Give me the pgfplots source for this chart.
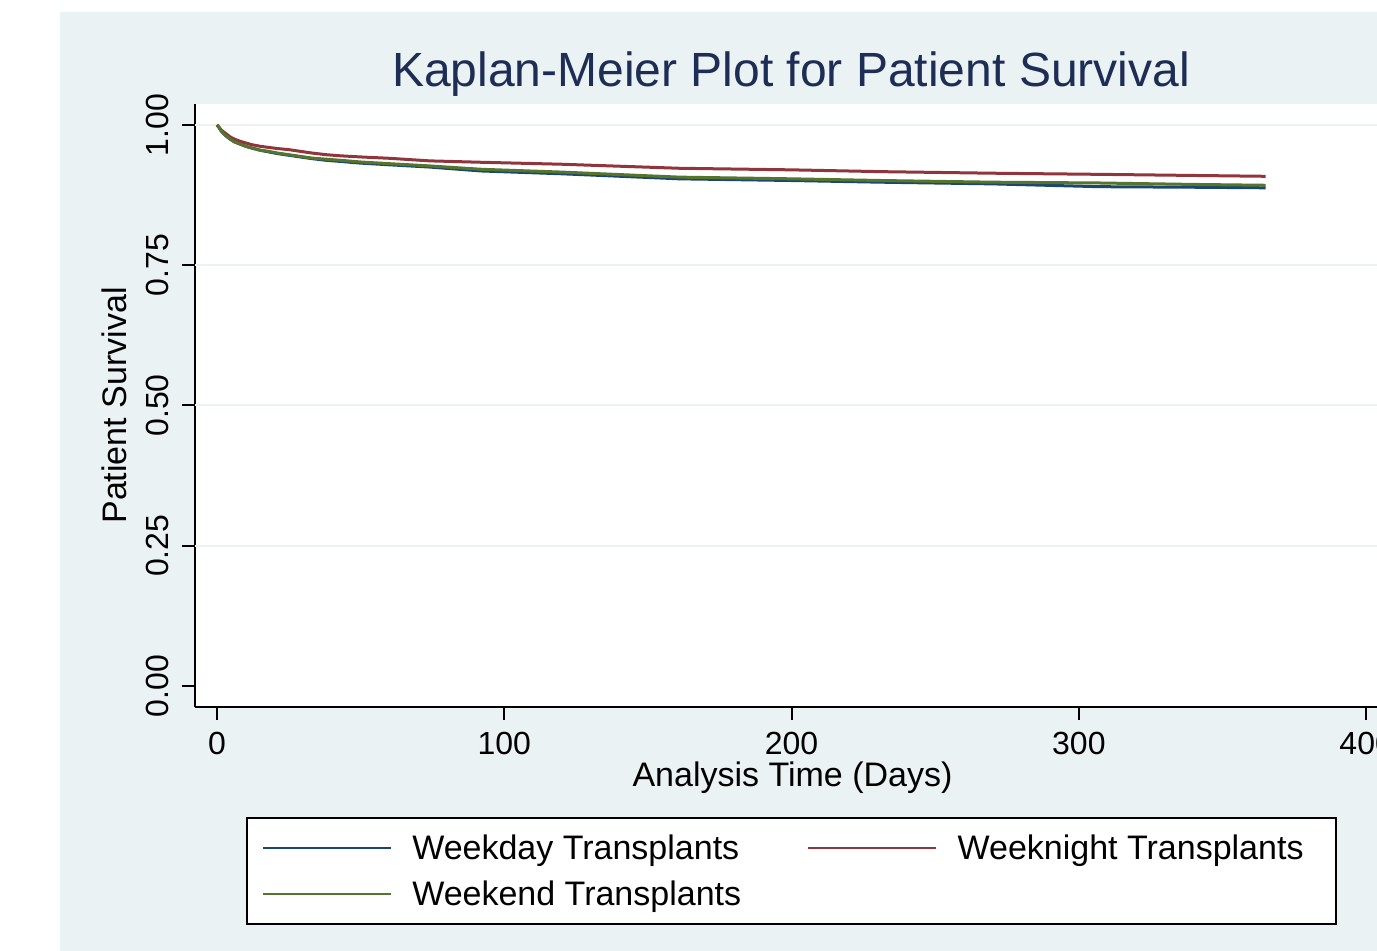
\documentclass[border=0pt]{standalone}
\usepackage{fontspec}
\setmainfont{Liberation Sans}
\usepackage{pgfplots}
\usepackage{pgfplotstable}
\pgfplotsset{compat=1.18}
\definecolor{bgc}{RGB}{234,242,243}
\definecolor{snavy}{RGB}{26,71,111}
\definecolor{smaroon}{RGB}{144,53,59}
\definecolor{sgreen}{RGB}{85,117,47}
\definecolor{titlec}{RGB}{30,45,85}
\pgfplotstableread{
t s
0 1.000
0.5 0.997
1 0.993
1.5 0.989
2.2 0.985
3 0.981
4.5 0.975
6 0.970
8 0.966
10 0.962
12 0.959
15 0.955
18 0.952
21 0.949
25 0.946
29 0.943
33 0.940
38 0.937
43 0.935
50 0.932
60 0.929
74 0.925
92 0.918
120 0.913
161 0.904
200 0.901
231 0.898
270 0.895
307 0.890
340 0.889
365 0.888
}\weekday
\pgfplotstableread{
t s
0 1.000
0.5 0.997
1 0.994
1.5 0.991
2.2 0.988
3 0.985
4.5 0.979
6 0.975
8 0.971
10 0.968
12 0.965
15 0.962
18 0.960
21 0.958
25 0.956
29 0.953
33 0.950
38 0.947
43 0.945
50 0.943
60 0.9406
74 0.936
92 0.9335
120 0.930
161 0.9228
200 0.920
231 0.9168
270 0.914
307 0.912
340 0.910
365 0.9085
}\weeknight
\pgfplotstableread{
t s
0 1.000
0.5 0.997
1 0.993
1.5 0.989
2.2 0.985
3 0.981
4.5 0.975
6 0.970
8 0.966
10 0.962
12 0.959
15 0.955
18 0.953
21 0.950
25 0.947
29 0.944
33 0.941
38 0.939
43 0.937
50 0.934
60 0.931
74 0.927
92 0.921
120 0.916
161 0.907
200 0.904
231 0.901
270 0.898
307 0.8966
340 0.894
365 0.8925
}\weekend
\begin{document}
\begin{tikzpicture}[x=0.5pt,y=0.5pt]
\useasboundingbox (0,0) rectangle (1377,951);
\fill[bgc] (60,0) rectangle (1377,939);
\node[anchor=base, text=titlec, font=\fontsize{24}{28}\selectfont, inner sep=0pt] at (791,864) {Kaplan-Meier Plot for Patient Survival};
\begin{scope}
\clip (0,0) rectangle (1377,951);
\begin{axis}[
  at={(97.5pt,122pt)}, anchor=south west,
  scale only axis, width=597.5pt, height=301.5pt,
  xmin=-7.66, xmax=408.3, ymin=-0.0374, ymax=1.0374,
  axis x line*=bottom, axis y line*=left,
  axis line style={line width=1pt, black, -},
  axis background/.style={fill=white},
  tick align=outside, major tick length=6.5pt,
  tick style={line width=1pt, black},
  xtick={0,100,200,300,400},
  ytick={0,0.25,0.5,0.75,1},
  yticklabels={0.00,0.25,0.50,0.75,1.00},
  extra y ticks={0.25,0.5,0.75,1},
  extra y tick labels={},
  extra y tick style={grid=major, major tick length=0pt},
  grid style={bgc, line width=1pt},
  /pgf/number format/assume math mode=true,
  ticklabel style={font=\fontsize{16}{19}\selectfont},
  yticklabel style={rotate=90, anchor=south},
  xticklabel style={anchor=north},
  yticklabel shift=3pt,
  xticklabel shift=2.5pt,
  xlabel={Analysis Time (Days)},
  ylabel={Patient Survival},
  label style={font=\fontsize{17}{20}\selectfont},
  xlabel style={at={(axis description cs:0.5,-0.1177)}, anchor=center},
  ylabel style={at={(axis description cs:-0.0678,0.5)}, anchor=center},
  legend columns=2,
  legend image code/.code={\draw[#1, line width=1.2pt] (0pt,0pt) -- (64pt,0pt);},
  legend style={at={(axis description cs:0.499,-0.1824)}, anchor=north,
    draw=black, line width=1pt, fill=white,
    font=\fontsize{17}{20}\selectfont,
    inner xsep=7.5pt, inner ysep=7pt,
    /tikz/column sep=0pt, /tikz/row sep=7.2pt,
    /tikz/every odd column/.append style={column sep=10pt},
    nodes={inner sep=0pt, text height=14pt, text depth=1.8pt, anchor=west}},
  legend cell align=left,
]
\addplot[snavy, line width=1.5pt] table[x=t,y=s] {\weekday};
\addlegendentry{\makebox[197.5pt][l]{Weekday Transplants}}
\addplot[smaroon, line width=1.5pt] table[x=t,y=s] {\weeknight};
\addlegendentry{\makebox[181.5pt][l]{Weeknight Transplants}}
\addplot[sgreen, line width=1.5pt] table[x=t,y=s] {\weekend};
\addlegendentry{\makebox[197.5pt][l]{Weekend Transplants}}
\end{axis}
\end{scope}
\end{tikzpicture}
\end{document}
